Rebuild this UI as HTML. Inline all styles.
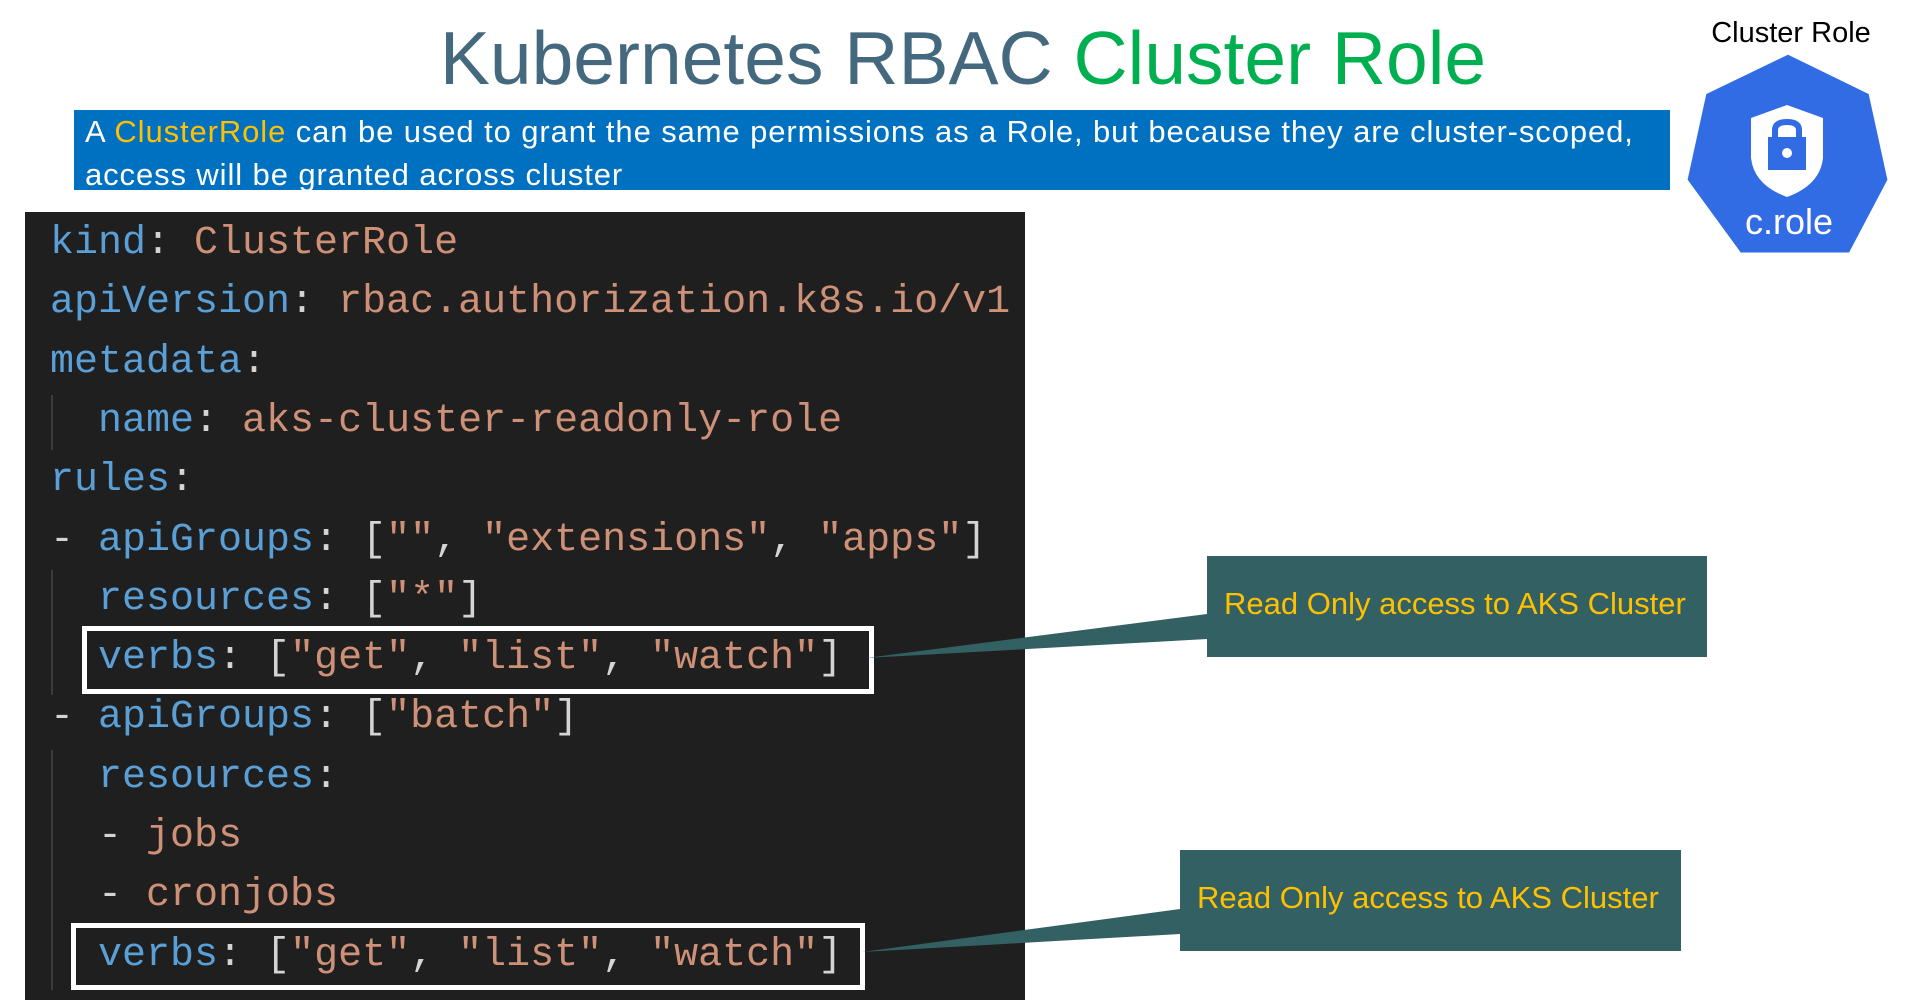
<!DOCTYPE html>
<html><head><meta charset="utf-8">
<style>
html,body{margin:0;padding:0;background:#fff;}
body{width:1915px;height:1005px;position:relative;overflow:hidden;font-family:"Liberation Sans",sans-serif;}
.title{position:absolute;left:0;width:1926px;text-align:center;top:8px;font-size:75px;line-height:100px;color:#44697f;white-space:nowrap;}
.title span{color:#00b050;}
.banner{position:absolute;left:74px;top:110px;width:1596px;height:80px;background:#0070c0;color:#fff;font-size:31px;letter-spacing:0.9px;line-height:43px;white-space:nowrap;box-sizing:border-box;padding:0 0 0 11px;}
.banner span{color:#ffc000;}
.code{position:absolute;left:25px;top:212px;width:1000px;height:788px;background:#1f1f1f;}
.ln{position:absolute;left:25px;font-family:"Liberation Mono",monospace;font-size:40px;line-height:59.3px;white-space:pre;color:#d4d4d4;}
.k{color:#5a9fd6;}
.v{color:#ce9178;}
.guide{position:absolute;width:2px;background:#3c3c3c;}
.box{position:absolute;border:5px solid #fff;box-sizing:border-box;}
.call{position:absolute;background:#336063;color:#ffc000;font-size:31px;white-space:nowrap;box-sizing:border-box;}
</style></head><body>
<div class="title">Kubernetes RBAC <span>Cluster Role</span></div>
<div class="banner">A <span>ClusterRole</span> can be used to grant the same permissions as a Role, but because they are cluster-scoped,<br>access will be granted across cluster</div>

<div class="code"></div>
<div class="guide" style="left:51px;top:395px;height:55px"></div>
<div class="guide" style="left:51px;top:570px;height:125px"></div>
<div class="guide" style="left:51px;top:750px;height:240px"></div>
<div class="ln" style="top:214px;left:50px"><span class="k">kind</span>: <span class="v">ClusterRole</span></div>
<div class="ln" style="top:273.3px;left:50px"><span class="k">apiVersion</span>: <span class="v">rbac.authorization.k8s.io/v1</span></div>
<div class="ln" style="top:332.6px;left:50px"><span class="k">metadata</span>:</div>
<div class="ln" style="top:391.9px;left:50px">  <span class="k">name</span>: <span class="v">aks-cluster-readonly-role</span></div>
<div class="ln" style="top:451.2px;left:50px"><span class="k">rules</span>:</div>
<div class="ln" style="top:510.5px;left:50px">- <span class="k">apiGroups</span>: [<span class="v">""</span>, <span class="v">"extensions"</span>, <span class="v">"apps"</span>]</div>
<div class="ln" style="top:569.8px;left:50px">  <span class="k">resources</span>: [<span class="v">"*"</span>]</div>
<div class="ln" style="top:629.1px;left:50px">  <span class="k">verbs</span>: [<span class="v">"get"</span>, <span class="v">"list"</span>, <span class="v">"watch"</span>]</div>
<div class="ln" style="top:688.4px;left:50px">- <span class="k">apiGroups</span>: [<span class="v">"batch"</span>]</div>
<div class="ln" style="top:747.7px;left:50px">  <span class="k">resources</span>:</div>
<div class="ln" style="top:807px;left:50px">  - <span class="v">jobs</span></div>
<div class="ln" style="top:866.3px;left:50px">  - <span class="v">cronjobs</span></div>
<div class="ln" style="top:925.6px;left:50px">  <span class="k">verbs</span>: [<span class="v">"get"</span>, <span class="v">"list"</span>, <span class="v">"watch"</span>]</div>

<div class="box" style="left:82px;top:626px;width:792px;height:68px"></div>
<div class="box" style="left:71px;top:923px;width:794px;height:67px"></div>

<svg style="position:absolute;left:0;top:0" width="1915" height="1005">
<polygon points="1207,614 1207,639 866,658" fill="#336063"/>
<polygon points="1180,909 1180,934 862,952" fill="#336063"/>
<polygon points="1788,53 1870,93 1889,180 1850,254 1740,254 1686,180 1705,93" fill="#326ce5" stroke="#fff" stroke-width="3" stroke-linejoin="round"/>
<path d="M1787,105 L1823,118 L1823,158 Q1820,185 1787,197 Q1754,185 1751,158 L1751,118 Z" fill="#fff"/>
<path d="M1775,138 L1775,130 Q1775,122 1787,122 Q1799,122 1799,130 L1799,138" fill="none" stroke="#326ce5" stroke-width="6"/>
<rect x="1768" y="137" width="38" height="33" fill="#326ce5"/>
<circle cx="1787" cy="153" r="5" fill="#fff"/>
<text x="1789" y="234" font-family="Liberation Sans, sans-serif" font-size="36" fill="#fff" text-anchor="middle">c.role</text>
<text x="1791" y="42" font-family="Liberation Sans, sans-serif" font-size="29" fill="#000" text-anchor="middle">Cluster Role</text>
</svg>

<div class="call" style="left:1207px;top:556px;width:500px;height:101px;padding:30px 0 0 17px;">Read Only access to AKS Cluster</div>
<div class="call" style="left:1180px;top:850px;width:501px;height:101px;padding:30px 0 0 17px;">Read Only access to AKS Cluster</div>
</body></html>
